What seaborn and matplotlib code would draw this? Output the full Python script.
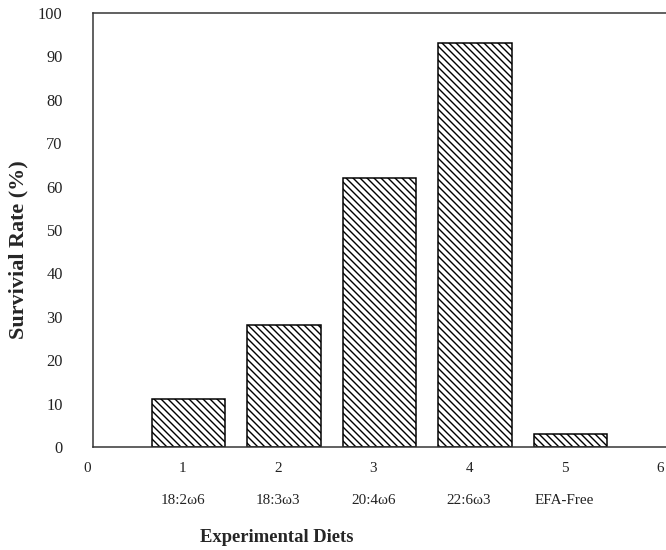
import matplotlib
matplotlib.use("Agg")
import matplotlib.pyplot as plt
import matplotlib.transforms as mtransforms
import seaborn as sns
import pandas as pd

# Survival of larvae fed the experimental diets
diet_number = [1, 2, 3, 4, 5]
diet_names = ["18:2ω6", "18:3ω3", "20:4ω6", "22:6ω3", "EFA-Free"]
survival = [11, 28, 62, 93, 3]
x_ticks = [0, 1, 2, 3, 4, 5, 6]
y_ticks = [0, 10, 20, 30, 40, 50, 60, 70, 80, 90, 100]

sns.set_style("white")
plt.rcParams["font.family"] = ["Liberation Serif", "DejaVu Serif"]
plt.rcParams["hatch.linewidth"] = 1.2
plt.rcParams["hatch.color"] = "black"

DPI = 84
fig = plt.figure(figsize=(666 / DPI, 550 / DPI), dpi=DPI)
ax = fig.add_axes([93 / 666, 103 / 550, 573 / 666, 434 / 550])

df = pd.DataFrame({"diet": diet_number, "survival": survival})
sns.barplot(data=df, x="diet", y="survival", native_scale=True, width=0.77,
            color="white", edgecolor="black", linewidth=1.3, ax=ax)
for bar in ax.patches:
    bar.set_hatch("\\\\\\\\")

ax.set_xlim(0, 6)
ax.set_ylim(0, 100)
ax.set_yticks(y_ticks)
ax.set_yticklabels([str(v) for v in y_ticks], fontsize=14)

labels = []
for t in x_ticks:
    if t in diet_number:
        labels.append(f"{t}\n{diet_names[diet_number.index(t)]}")
    else:
        labels.append(str(t))
ax.set_xticks(x_ticks)
ax.set_xticklabels(labels, fontsize=13, linespacing=2.9)

ax.tick_params(axis="y", direction="in", length=7, width=1.0, pad=26, colors="#222222")
ax.tick_params(axis="x", length=0, pad=13, colors="#222222")

# nudge the bottom labels slightly left so the last one stays inside the figure
shift = mtransforms.ScaledTranslation(-6 / DPI, 0, fig.dpi_scale_trans)
for lab in ax.get_xticklabels():
    lab.set_transform(lab.get_transform() + shift)

for side in ["left", "top", "bottom"]:
    ax.spines[side].set_visible(True)
    ax.spines[side].set_color("#333333")
    ax.spines[side].set_linewidth(1.3)
ax.spines["right"].set_visible(False)

ax.set_ylabel("Survivial Rate (%)", fontsize=19, fontweight="bold")
ax.yaxis.set_label_coords(-0.112, 0.455)
ax.set_xlabel("Experimental Diets", fontsize=16, fontweight="bold", va="center")
ax.xaxis.set_label_coords((277 - 93) / 573, -0.208)

fig.savefig("out.png", dpi=DPI)
